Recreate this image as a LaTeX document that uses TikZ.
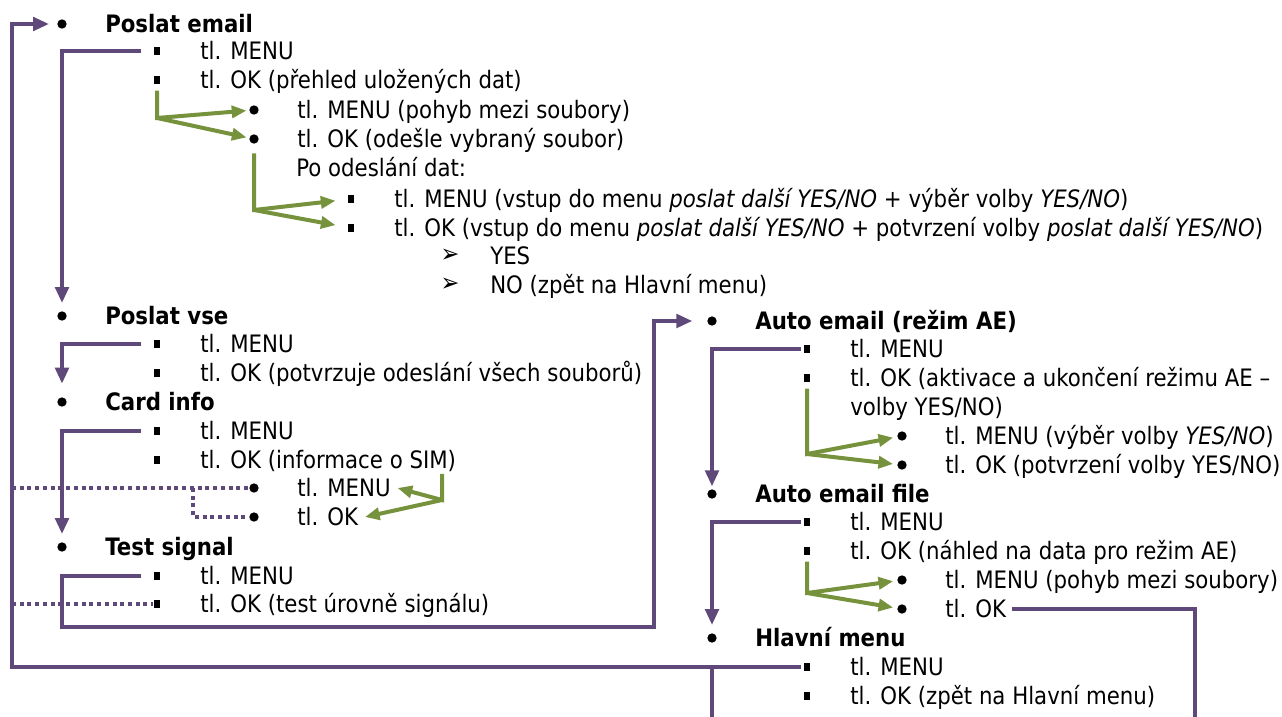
\documentclass[tikz,border=0pt]{standalone}
\usepackage{fontspec}
\setmainfont{DejaVu Sans}[FakeStretch=0.887]
\usetikzlibrary{arrows.meta,positioning}
\definecolor{lila}{HTML}{5F497A}
\definecolor{oliv}{HTML}{76923C}

\begin{document}
\begin{tikzpicture}[x=0.75pt, y=-0.75pt,
	dot/.style={circle, fill=black, inner sep=0pt, minimum size=7pt},
	sq/.style={rectangle, fill=black, inner sep=0pt, minimum width=5pt, minimum height=5.5pt},
	arr/.style={inner sep=0pt, font=\fontsize{19}{19}\selectfont},
	txt/.style={anchor=west, inner sep=0pt, text height=16.7pt, text depth=3.6pt, font=\fontsize{18}{22}\selectfont},
	link/.style={draw=lila, line width=3pt},
	linkarrow/.style={link, -{Triangle[length=12pt,width=10pt]}, shorten >=6pt},
	dotlink/.style={link, dash pattern=on 3pt off 2.8pt},
	greenarrow/.style={draw=oliv, line width=3pt, -{Triangle[length=11pt,width=9pt]}, shorten >=2pt}]
	\useasboundingbox (0,0) rectangle (1282,717);
	\foreach \n/\x/\y/\t in {pe/62/24/{\textbf{Poslat email}}, pe21/254/110/{tl. MENU (pohyb mezi soubory)},
		pe22/254/139/{tl. OK (odešle vybraný soubor)}, pv/62/316/{\textbf{Poslat vse}}, ci/62/402/{\textbf{Card info}},
		ci21/254/488/{tl. MENU}, ci22/254/517/{tl. OK}, ts/62/547/{\textbf{Test signal}},
		ae/712/321/{\textbf{Auto email (režim AE)}}, ae21/902/436/{tl. MENU (výběr volby \textit{YES/NO})},
		ae22/902/465/{tl. OK (potvrzení volby YES/NO)}, af/712/494/{\textbf{Auto email file}},
		af21/902/580/{tl. MENU (pohyb mezi soubory)}, af22/902/609/{tl. OK}, hm/712/638/{\textbf{Hlavní menu}}} {
		\node[dot] (\n) at (\x,\y) {};
		\node[txt] (t\n) at (\x+43,\y) {\t};
	}
	\foreach \n/\x/\y/\t in {pe1/157/51/{tl. MENU}, pe2/157/80/{tl. OK (přehled uložených dat)},
		pe221/351/199/{tl. MENU (vstup do menu \textit{poslat další YES/NO} + výběr volby \textit{YES/NO})},
		pe222/351/228/{tl. OK (vstup do menu \textit{poslat další YES/NO} + potvrzení volby \textit{poslat další YES/NO})},
		pv1/157/344/{tl. MENU}, pv2/157/373/{tl. OK (potvrzuje odeslání všech souborů)},
		ci1/157/431/{tl. MENU}, ci2/157/460/{tl. OK (informace o SIM)},
		ts1/157/576/{tl. MENU}, ts2/157/604/{tl. OK (test úrovně signálu)},
		ae1/807/349/{tl. MENU}, ae2/807/378/{tl. OK (aktivace a ukončení režimu AE –},
		af1/807/522/{tl. MENU}, af2/807/551/{tl. OK (náhled na data pro režim AE)},
		hm1/807/667/{tl. MENU}, hm2/807/696/{tl. OK (zpět na Hlavní menu)}} {
		\node[sq] (\n) at (\x,\y) {};
		\node[txt] (t\n) at (\x+43,\y) {\t};
	}
	\foreach \n/\y/\t in {yes/256/{YES}, no/285/{NO (zpět na Hlavní menu)}} {
		\node[arr] (\n) at (450,\y) {➢};
		\node[txt] (t\n) at (490,\y) {\t};
	}
	\node[txt] (po) at (296,168) {Po odeslání dat:};
	\node[txt] (volby) at (850,407) {volby YES/NO)};

	\coordinate (lx) at (12,24);
	\coordinate (c1) at (62,627);
	\coordinate (c2) at (654,627);
	\coordinate (cd) at (193,488);
	\coordinate (hmout) at (712,722);
	\coordinate (afout) at (1195,722);
	\draw[linkarrow, shorten <=2pt] (hm1.west) -| (lx) -- (pe);
	\draw[linkarrow, shorten <=9pt] (pe1.west) -| (pv);
	\draw[linkarrow, shorten <=9pt, shorten >=10pt] (pv1.west) -| (ci);
	\draw[linkarrow, shorten <=9pt] (ci1.west) -| (ts);
	\draw[linkarrow, shorten <=9pt, shorten >=11pt] (ts1.west) -| (c1) -- (c2) |- (ae);
	\draw[linkarrow, shorten <=2pt, shorten >=2pt] (ae1.west) -| (af);
	\draw[linkarrow, shorten <=2pt] (af1.west) -| (hm);
	\draw[link] (hmout |- hm1) -- (hmout);
	\draw[link] ([xshift=4pt]taf22.east) -| (afout);
	\draw[dotlink] (lx |- ci21) -- (ci21);
	\draw[dotlink] (cd) |- (ci22);
	\draw[dotlink] (lx |- ts2) -- (ts2);

	\coordinate (g1) at (157,118);
	\coordinate (g2) at (254,210);
	\coordinate (g3) at (442,500);
	\coordinate (g4) at (807,454);
	\coordinate (g5) at (807,593);
	\draw[greenarrow] ([yshift=-5pt]pe2.south) -- (g1) -- (pe21);
	\draw[greenarrow] (g1) -- (pe22);
	\draw[greenarrow, shorten >=9pt] ([yshift=-7pt]pe22.south) -- (g2) -- (pe221);
	\draw[greenarrow, shorten >=9pt] (g2) -- (pe222);
	\draw[greenarrow, shorten >=0pt] (tci2.south east -| g3) -- (g3) -- ([xshift=5pt]tci21.east);
	\draw[greenarrow, shorten >=0pt] (g3) -- ([xshift=5pt]tci22.east);
	\draw[greenarrow, shorten >=3pt] ([yshift=-5pt]ae2.south) -- (g4) -- (ae21);
	\draw[greenarrow, shorten >=3pt] (g4) -- (ae22);
	\draw[greenarrow, shorten >=3pt] ([yshift=-5pt]af2.south) -- (g5) -- (af21);
	\draw[greenarrow, shorten >=3pt] (g5) -- (af22);
\end{tikzpicture}
\end{document}
